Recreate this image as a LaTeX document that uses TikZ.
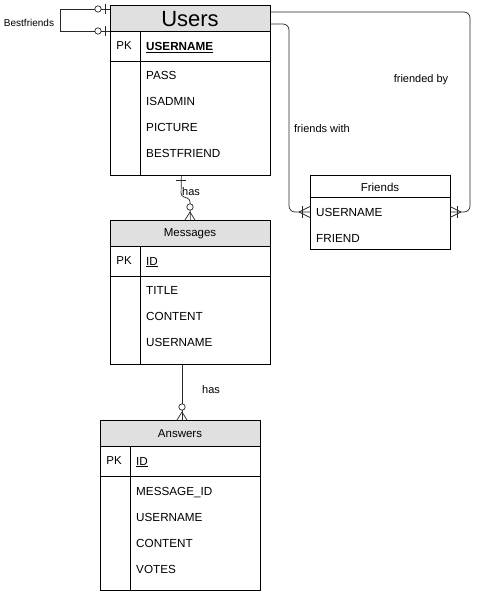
\documentclass[tikz,border=0pt]{standalone}
\usepackage{fontspec}
\setmainfont{Liberation Sans}
\definecolor{hdrgray}{RGB}{224,224,224}
\definecolor{lnk}{RGB}{40,40,40}
\begin{document}
\begin{tikzpicture}[x=1pt,y=-1pt,
  tbl/.style={draw, line width=0.8pt, inner sep=0, minimum width=160pt, anchor=north west},
  fld/.style={anchor=west, inner sep=0, yshift=-1pt, text height=8.4pt, text depth=0pt, font=\fontsize{11.7}{13}\selectfont},
  ttl/.style={inner sep=0, yshift=-1pt, font=\fontsize{11.5}{13}\selectfont},
  lbl/.style={inner sep=0, yshift=-1pt, font=\fontsize{11}{13}\selectfont},
  conn/.style={draw=lnk, line width=0.7pt},
  mk/.style={draw=lnk, line width=0.7pt},
  sep/.style={line width=0.8pt}]
\useasboundingbox (0,0) rectangle (480,591);

% ---------- Users ----------
\fill[hdrgray] (110,5) rectangle (270,31);
\node[tbl, minimum height=170pt] (users) at (110,5) {};
\draw[sep] (110,31) -- (270,31);
\draw[sep] (110,61) -- (270,61);
\draw[sep] (140,31) -- (140,175);
\node[inner sep=0, yshift=-1pt, font=\fontsize{22}{24}\selectfont] (usersT) at (190,18) {Users};
\node[ttl] (upk) at (124,45) {PK};
\node[fld] (u0) at (146,45) {\bfseries\underline{USERNAME}};
\node[fld] (u1) at (146,74) {PASS};
\node[fld] (u2) at (146,100) {ISADMIN};
\node[fld] (u3) at (146,126) {PICTURE};
\node[fld] (u4) at (146,152) {BESTFRIEND};

% ---------- Messages ----------
\fill[hdrgray] (110,220) rectangle (270,246);
\node[tbl, minimum height=144pt] (msg) at (110,220) {};
\draw[sep] (110,246) -- (270,246);
\draw[sep] (110,276) -- (270,276);
\draw[sep] (140,246) -- (140,364);
\node[ttl] (msgT) at (190,233) {Messages};
\node[ttl] (mpk) at (124,260) {PK};
\node[fld] (m0) at (146,260) {\underline{ID}};
\node[fld] (m1) at (146,289) {TITLE};
\node[fld] (m2) at (146,315) {CONTENT};
\node[fld] (m3) at (146,341) {USERNAME};

% ---------- Answers ----------
\fill[hdrgray] (100,420) rectangle (260,446);
\node[tbl, minimum height=170pt] (ans) at (100,420) {};
\draw[sep] (100,446) -- (260,446);
\draw[sep] (100,476) -- (260,476);
\draw[sep] (130,446) -- (130,590);
\node[ttl] (ansT) at (180,433) {Answers};
\node[ttl] (apk) at (114,460) {PK};
\node[fld] (a0) at (136,460) {\underline{ID}};
\node[fld] (a1) at (136,490) {MESSAGE\_ID};
\node[fld] (a2) at (136,516) {USERNAME};
\node[fld] (a3) at (136,542) {CONTENT};
\node[fld] (a4) at (136,568) {VOTES};

% ---------- Friends ----------
\node[tbl, minimum width=140pt, minimum height=74pt] (fr) at (310,175) {};
\draw[sep] (310,197) -- (450,197);
\node[ttl] (frT) at (380,186) {Friends};
\node[fld] (f0) at (316,211) {USERNAME};
\node[fld] (f1) at (316,237) {FRIEND};

% ---------- Bestfriends self relation ----------
\coordinate (bfA) at ([yshift=-4pt]users.north west);
\coordinate (bfB) at ([yshift=-26pt]users.north west);
\draw[conn] (bfA) -- (60,9) -- (60,31) -- (bfB);
\node[lbl, font=\fontsize{10}{12}\selectfont] (bfL) at (29,22) {Bestfriends};
\foreach \yy in {9,31} {
  \draw[mk, fill=white] (98,\yy) circle[radius=3.2pt];
  \draw[mk] (105,\yy-5) -- (105,\yy+5);
}

% ---------- Users -> Friends (friended by) ----------
\coordinate (ufA) at ([yshift=-7pt]users.north east);
\coordinate (frR) at ([yshift=-37pt]fr.north east);
\draw[conn, rounded corners=6pt] (ufA) -- (470,12) -- (470,212) -- (frR);
\draw[mk] (461,212) -- (450,206.5);
\draw[mk] (461,212) -- (450,217.5);
\draw[mk] (457,206) -- (457,218);
\node[lbl] (fbL) at (421,79) {friended by};

% ---------- Users -> Friends (friends with) ----------
\coordinate (ufB) at ([yshift=-19pt]users.north east);
\coordinate (frL) at ([yshift=-37pt]fr.north west);
\draw[conn, rounded corners=6pt] (ufB) -- (289,24) -- (289,212) -- (frL);
\draw[mk] (299,212) -- (310,206.5);
\draw[mk] (299,212) -- (310,217.5);
\draw[mk] (302,206) -- (302,218);
\node[lbl] (fwL) at (322,128) {friends with};

% ---------- Users -> Messages ----------
\coordinate (umA) at ([xshift=-9pt]users.south);
\coordinate (umB) at (msg.north);
\draw[conn, rounded corners=3pt] (umA) -- (181,196) -- (190,199) -- (umB);
\draw[mk] (176,180) -- (186,180);
\draw[mk] (190,212) -- (185,220);
\draw[mk] (190,212) -- (195,220);
\draw[mk, fill=white] (190,207) circle[radius=3.2pt];
\node[lbl] (has1) at (191,191) {has};

% ---------- Messages -> Answers ----------
\coordinate (maA) at ([xshift=-8pt]msg.south);
\coordinate (maB) at ([xshift=2pt]ans.north);
\draw[conn] (maA) -- (maB);
\draw[mk] (182,412) -- (177,420);
\draw[mk] (182,412) -- (187,420);
\draw[mk, fill=white] (182,407) circle[radius=3.2pt];
\node[lbl] (has2) at (211,389) {has};
\end{tikzpicture}
\end{document}
